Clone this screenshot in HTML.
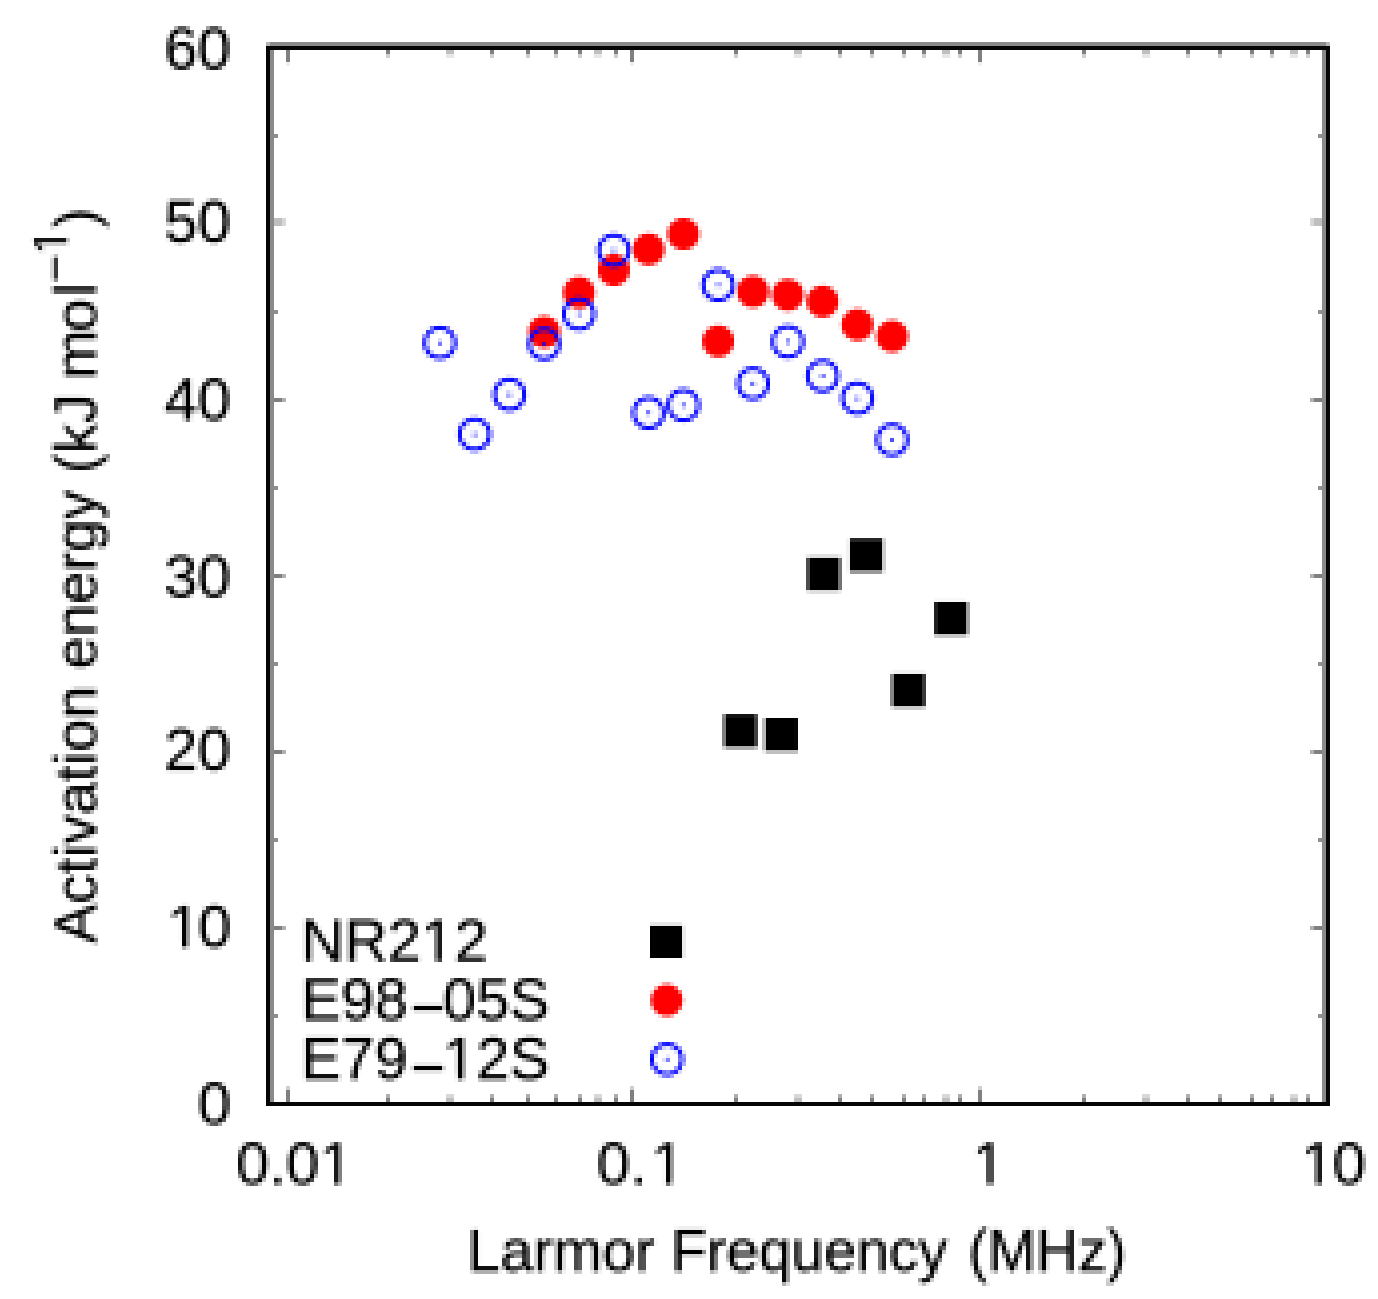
<!DOCTYPE html>
<html><head><meta charset="utf-8"><title>Activation energy vs Larmor frequency</title>
<style>html,body{margin:0;padding:0;background:#fff}svg{display:block}text{font-family:"Liberation Sans",Arial,Helvetica,sans-serif;fill:#000;stroke:#000;stroke-width:0.35px}</style>
</head><body>
<svg width="1378" height="1299" viewBox="0 0 1378 1299">
<defs><filter id="px" x="0" y="0" width="1378" height="1299" filterUnits="userSpaceOnUse" primitiveUnits="userSpaceOnUse" color-interpolation-filters="sRGB">
<feConvolveMatrix in="SourceGraphic" order="4" kernelMatrix="1 1 1 1 1 1 1 1 1 1 1 1 1 1 1 1" divisor="16" targetX="0" targetY="0" edgeMode="duplicate" preserveAlpha="false" result="avg"/>
<feFlood x="2" y="2" width="1" height="1" flood-color="#000" result="dot"/>
<feComposite in="dot" in2="dot" operator="over" x="2" y="2" width="4" height="4" result="cell"/>
<feTile in="cell" x="0" y="0" width="1378" height="1299" result="grid"/>
<feComposite in="avg" in2="grid" operator="in" result="s0"/>
<feOffset in="s0" dx="1" result="s1"/><feOffset in="s0" dx="2" result="s2"/><feOffset in="s0" dx="3" result="s3"/>
<feMerge result="row"><feMergeNode in="s0"/><feMergeNode in="s1"/><feMergeNode in="s2"/><feMergeNode in="s3"/></feMerge>
<feOffset in="row" dy="1" result="r1"/><feOffset in="row" dy="2" result="r2"/><feOffset in="row" dy="3" result="r3"/>
<feMerge result="pix"><feMergeNode in="row"/><feMergeNode in="r1"/><feMergeNode in="r2"/><feMergeNode in="r3"/></feMerge>
<feMerge><feMergeNode in="SourceGraphic"/><feMergeNode in="pix"/></feMerge>
</filter></defs>
<g filter="url(#px)">
<rect x="-8" y="-8" width="1394" height="1315" fill="#fff"/>
<g stroke="#000" stroke-width="2.0" fill="none">
<path d="M287.0 1104.0 v-15.5"/><path d="M287.0 47.0 v15.5"/>
<path d="M389.0 1104.0 v-8.5"/><path d="M389.0 47.0 v8.5"/>
<path d="M450.0 1104.0 v-8.5"/><path d="M450.0 47.0 v8.5"/>
<path d="M493.0 1104.0 v-8.5"/><path d="M493.0 47.0 v8.5"/>
<path d="M527.0 1104.0 v-8.5"/><path d="M527.0 47.0 v8.5"/>
<path d="M556.0 1104.0 v-8.5"/><path d="M556.0 47.0 v8.5"/>
<path d="M579.0 1104.0 v-8.5"/><path d="M579.0 47.0 v8.5"/>
<path d="M598.0 1104.0 v-8.5"/><path d="M598.0 47.0 v8.5"/>
<path d="M615.0 1104.0 v-8.5"/><path d="M615.0 47.0 v8.5"/>
<path d="M633.0 1104.0 v-15.5"/><path d="M633.0 47.0 v15.5"/>
<path d="M736.8 1104.0 v-8.5"/><path d="M736.8 47.0 v8.5"/>
<path d="M798.0 1104.0 v-8.5"/><path d="M798.0 47.0 v8.5"/>
<path d="M840.3 1104.0 v-8.5"/><path d="M840.3 47.0 v8.5"/>
<path d="M873.0 1104.0 v-8.5"/><path d="M873.0 47.0 v8.5"/>
<path d="M903.0 1104.0 v-8.5"/><path d="M903.0 47.0 v8.5"/>
<path d="M925.0 1104.0 v-8.5"/><path d="M925.0 47.0 v8.5"/>
<path d="M946.0 1104.0 v-8.5"/><path d="M946.0 47.0 v8.5"/>
<path d="M961.0 1104.0 v-8.5"/><path d="M961.0 47.0 v8.5"/>
<path d="M980.6 1104.0 v-15.5"/><path d="M980.6 47.0 v15.5"/>
<path d="M1083.8 1104.0 v-8.5"/><path d="M1083.8 47.0 v8.5"/>
<path d="M1146.0 1104.0 v-8.5"/><path d="M1146.0 47.0 v8.5"/>
<path d="M1187.3 1104.0 v-8.5"/><path d="M1187.3 47.0 v8.5"/>
<path d="M1220.3 1104.0 v-8.5"/><path d="M1220.3 47.0 v8.5"/>
<path d="M1251.0 1104.0 v-8.5"/><path d="M1251.0 47.0 v8.5"/>
<path d="M1272.1 1104.0 v-8.5"/><path d="M1272.1 47.0 v8.5"/>
<path d="M1294.0 1104.0 v-8.5"/><path d="M1294.0 47.0 v8.5"/>
<path d="M1308.9 1104.0 v-8.5"/><path d="M1308.9 47.0 v8.5"/>
<path d="M269.0 1015.9 h8.5"/><path d="M1327.0 1015.9 h-8.5"/>
<path d="M269.0 927.8 h15.5"/><path d="M1327.0 927.8 h-15.5"/>
<path d="M269.0 839.8 h8.5"/><path d="M1327.0 839.8 h-8.5"/>
<path d="M269.0 751.7 h15.5"/><path d="M1327.0 751.7 h-15.5"/>
<path d="M269.0 663.6 h8.5"/><path d="M1327.0 663.6 h-8.5"/>
<path d="M269.0 575.5 h15.5"/><path d="M1327.0 575.5 h-15.5"/>
<path d="M269.0 487.4 h8.5"/><path d="M1327.0 487.4 h-8.5"/>
<path d="M269.0 399.3 h15.5"/><path d="M1327.0 399.3 h-15.5"/>
<path d="M269.0 311.2 h8.5"/><path d="M1327.0 311.2 h-8.5"/>
<path d="M269.0 222.0 h15.5"/><path d="M1327.0 222.0 h-15.5"/>
<path d="M269.0 135.1 h8.5"/><path d="M1327.0 135.1 h-8.5"/>
</g>
<g fill="#8a8a8a">
<rect x="266" y="42" width="1064" height="4"/>
<rect x="270" y="50" width="4" height="1052"/>
<rect x="1322" y="50" width="4" height="1052"/>
</g>
<rect x="266" y="42" width="4" height="4" fill="#b4b4b4"/><rect x="1326" y="42" width="4" height="4" fill="#b4b4b4"/>
<g fill="#050505">
<rect x="266" y="46" width="1064" height="4"/>
<rect x="266" y="1102" width="1064" height="4"/>
<rect x="266" y="46" width="4" height="1060"/>
<rect x="1326" y="46" width="4" height="1060"/>
</g>
<g font-size="60" text-anchor="end">
<text x="231" y="1123.5">0</text>
<text x="167.1 198" y="947.3" text-anchor="start">10</text>
<text x="231" y="770.2">20</text>
<text x="231" y="597.0">30</text>
<text x="231" y="419.8">40</text>
<text x="231" y="241.7">50</text>
<text x="231" y="69.0">60</text>
</g>
<g font-size="60" text-anchor="middle">
<text x="236" y="1184" text-anchor="start">0.01</text>
<text x="596.7 630.5 650.9" y="1184" text-anchor="start">0.1</text>
<text x="972.3" y="1184" text-anchor="start">1</text>
<text x="1301 1332.5" y="1184" text-anchor="start">10</text>
</g>
<text y="1271" font-size="60" lengthAdjust="spacingAndGlyphs"><tspan x="467.4" textLength="187.6" lengthAdjust="spacingAndGlyphs">Larmor</tspan> <tspan x="671" textLength="276.5" lengthAdjust="spacingAndGlyphs">Frequency</tspan> <tspan x="968.3" textLength="158" lengthAdjust="spacingAndGlyphs">(MHz)</tspan></text>
<text transform="rotate(-90)" y="96" font-size="60"><tspan x="-943.6" textLength="257.8" lengthAdjust="spacingAndGlyphs">Activation</tspan> <tspan x="-669.3" textLength="179.2" lengthAdjust="spacingAndGlyphs">energy</tspan> <tspan x="-473.6">(kJ</tspan> <tspan x="-379.5 -332 -296.2">mol</tspan><tspan font-size="48" dy="-24.6">−</tspan><tspan font-size="48" dy="-4.4">1</tspan><tspan dy="29">)</tspan></text>
<g fill="#000">
<rect x="724.0" y="714.3" width="33" height="33"/>
<rect x="764.9" y="718.0" width="33" height="33"/>
<rect x="807.2" y="557.5" width="33" height="33"/>
<rect x="849.8" y="538.6" width="33" height="33"/>
<rect x="892.1" y="673.8" width="33" height="33"/>
<rect x="934.5" y="601.9" width="33" height="33"/>
<rect x="650" y="925.6" width="32.3" height="32.4"/>
</g>
<g fill="#ff0000">
<circle cx="544.2" cy="331.9" r="16"/>
<circle cx="579.0" cy="292.7" r="16"/>
<circle cx="613.8" cy="269.9" r="16"/>
<circle cx="648.6" cy="249.2" r="16"/>
<circle cx="683.4" cy="234.0" r="16"/>
<circle cx="718.2" cy="341.3" r="16"/>
<circle cx="753.0" cy="291.6" r="16"/>
<circle cx="787.8" cy="294.9" r="16"/>
<circle cx="822.6" cy="301.4" r="16"/>
<circle cx="857.4" cy="324.7" r="16"/>
<circle cx="892.2" cy="336.3" r="16"/>
<circle cx="666.8" cy="1000.2" r="16"/>
</g>
<g fill="none" stroke="#0000ff" stroke-width="4">
<circle cx="439.8" cy="342.8" r="15"/>
<circle cx="474.6" cy="434.3" r="15"/>
<circle cx="509.4" cy="394.4" r="15"/>
<circle cx="544.2" cy="343.9" r="15"/>
<circle cx="579.0" cy="314.1" r="15"/>
<circle cx="613.8" cy="250.3" r="15"/>
<circle cx="648.6" cy="412.9" r="15"/>
<circle cx="683.4" cy="405.3" r="15"/>
<circle cx="718.2" cy="285.1" r="15"/>
<circle cx="753.0" cy="383.5" r="15"/>
<circle cx="787.8" cy="341.7" r="15"/>
<circle cx="822.6" cy="375.9" r="15"/>
<circle cx="857.4" cy="398.3" r="15"/>
<circle cx="892.2" cy="439.7" r="15"/>
<circle cx="667" cy="1059.2" r="15"/>
</g>
<g fill="#0000ff">
<circle cx="439.8" cy="342.8" r="1.9"/>
<circle cx="474.6" cy="434.3" r="1.9"/>
<circle cx="509.4" cy="394.4" r="1.9"/>
<circle cx="544.2" cy="343.9" r="1.9"/>
<circle cx="579.0" cy="314.1" r="1.9"/>
<circle cx="613.8" cy="250.3" r="1.9"/>
<circle cx="648.6" cy="412.9" r="1.9"/>
<circle cx="683.4" cy="405.3" r="1.9"/>
<circle cx="718.2" cy="285.1" r="1.9"/>
<circle cx="753.0" cy="383.5" r="1.9"/>
<circle cx="787.8" cy="341.7" r="1.9"/>
<circle cx="822.6" cy="375.9" r="1.9"/>
<circle cx="857.4" cy="398.3" r="1.9"/>
<circle cx="892.2" cy="439.7" r="1.9"/>
<circle cx="667" cy="1059.2" r="1.9"/>
</g>
<g font-size="60">
<text x="301" y="961">NR212</text>
<text x="301" y="1020">E98<tspan dx="2.7" dy="7.9">−</tspan><tspan dx="-2.7" dy="-7.9">05S</tspan></text>
<text x="301" y="1079">E79<tspan dx="2.7" dy="8.6">−</tspan><tspan dx="-2.7" dy="-8.6">12S</tspan></text>
</g>
<g fill="#fff"><rect x="170.37" y="941.52" width="11.64" height="7.08"/><rect x="187.67" y="941.52" width="11.17" height="7.08"/></g>
<g fill="#fff"><rect x="322.68" y="1178.22" width="11.64" height="7.08"/><rect x="339.98" y="1178.22" width="11.17" height="7.08"/></g>
<g fill="#fff"><rect x="654.17" y="1178.22" width="11.64" height="7.08"/><rect x="671.47" y="1178.22" width="11.17" height="7.08"/></g>
<g fill="#fff"><rect x="975.57" y="1178.22" width="11.64" height="7.08"/><rect x="992.87" y="1178.22" width="11.17" height="7.08"/></g>
<g fill="#fff"><rect x="1304.27" y="1178.22" width="11.64" height="7.08"/><rect x="1321.57" y="1178.22" width="11.17" height="7.08"/></g>
<g transform="rotate(-90)" fill="#fff"><rect x="-252.47" y="62.11" width="9.53" height="6.19"/><rect x="-238.33" y="62.11" width="9.16" height="6.19"/></g>
<g fill="#fff"><rect x="424.29" y="955.22" width="11.64" height="7.08"/><rect x="441.59" y="955.22" width="11.17" height="7.08"/></g>
<g fill="#fff"><rect x="446.08" y="1073.22" width="11.64" height="7.08"/><rect x="463.38" y="1073.22" width="11.17" height="7.08"/></g>
</g>
</svg></body></html>
